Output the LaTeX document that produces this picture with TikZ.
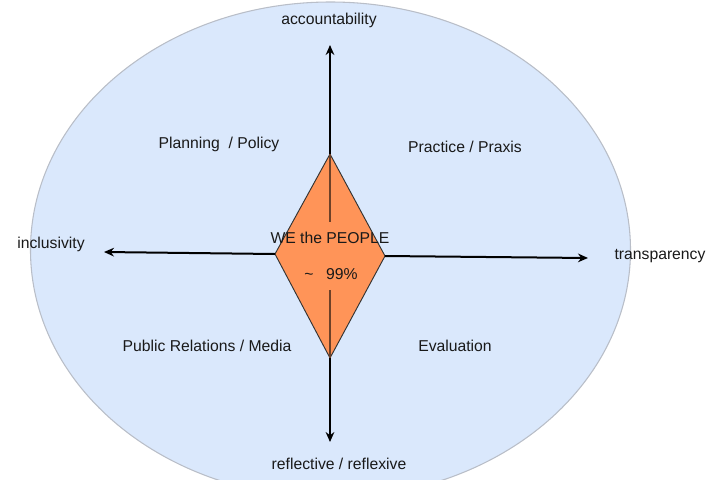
\documentclass[tikz,border=0pt]{standalone}
\usepackage{fontspec}
\setmainfont{Liberation Sans}
\usetikzlibrary{arrows.meta,shapes.geometric}
\definecolor{ellfill}{RGB}{218,232,252}
\definecolor{elldraw}{RGB}{185,190,200}
\definecolor{dfill}{RGB}{255,148,88}
\definecolor{inner}{RGB}{110,65,40}
\tikzset{
  lbl/.style={font=\fontsize{11.8}{14}\selectfont, inner sep=0pt, text=black!90},
  axis/.style={line width=1.5pt, -{Stealth[length=7.5pt,width=6.5pt]}},
}
\begin{document}
\begin{tikzpicture}[x=0.75pt,y=-0.75pt]
\useasboundingbox (0,0) rectangle (711,479);
\begin{scope}
\clip (0,0) rectangle (711,479);
\node (ell) [ellipse, draw=elldraw, line width=0.8pt, fill=ellfill, minimum width=600*0.75pt, minimum height=496*0.75pt, inner sep=0pt] at (330.5,250) {};
\end{scope}
% diamond corners
\coordinate (dT) at (330,154);
\coordinate (dB) at (330,358);
\coordinate (dL) at (275,254);
\coordinate (dR) at (385,256);
\coordinate (gU) at (330,222);
\coordinate (gD) at (330,290);
\coordinate (aU) at (330,45);
\coordinate (aD) at (330,442);
\coordinate (aL) at (104,252);
\coordinate (aR) at (588,258);
\fill[dfill] (dT) -- (dR) -- (dB) -- (dL) -- cycle;
\draw[line width=0.7pt, color=black!80] (dT) -- (dR) -- (dB) -- (dL) -- cycle;
\draw[inner, line width=1.2pt] (dT) -- (gU);
\draw[inner, line width=1.2pt] (gD) -- (dB);
\draw[axis] (dT) -- (aU);
\draw[axis] (dB) -- (aD);
\draw[axis] (dL) -- (aL);
\draw[axis] (dR) -- (aR);
% labels
\node (acc) [lbl] at (329,20) {accountability};
\node (ref) [lbl] at (339,464) {reflective / reflexive};
\node (inc) [lbl] at (51,244) {inclusivity};
\node (tra) [lbl] at (660,256) {transparency};
\node (pla) [lbl] at (219,144) {Planning~~/ Policy};
\node (pra) [lbl] at (465,147) {Practice / Praxis};
\node (pub) [lbl] at (207,346) {Public Relations / Media};
\node (eva) [lbl] at (455,346) {Evaluation};
\node (we) [lbl] at (330,238) {WE the PEOPLE};
\node (pct) [lbl] at (331,274) {\textasciitilde\hspace{0.8em}99\%};
\end{tikzpicture}
\end{document}
